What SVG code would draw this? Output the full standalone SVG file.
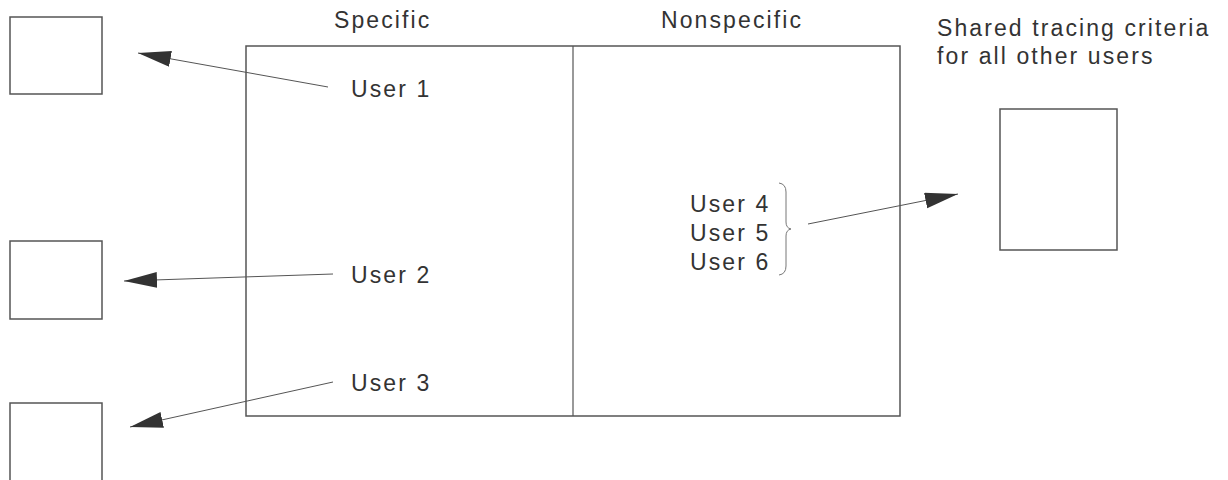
<svg xmlns="http://www.w3.org/2000/svg" width="1228" height="480" viewBox="0 0 1228 480">
<style>
text{font-family:"Liberation Sans",Arial,sans-serif;font-size:23px;letter-spacing:2.1px;fill:#333}
.box{fill:#fff;stroke:#555;stroke-width:1.5}
.conn{stroke:#555;stroke-width:1;fill:none}
</style>
<defs>
<marker id="ah" markerUnits="userSpaceOnUse" markerWidth="34" markerHeight="18" refX="33" refY="8" orient="auto">
<path d="M0,0 L33,8 L0,16 z" fill="#333"/>
</marker>
</defs>
<rect width="1228" height="480" fill="#fff"/>
<g id="main">
<rect class="box" x="246" y="46" width="654" height="370"/>
<line x1="573" y1="46" x2="573" y2="416" stroke="#555" stroke-width="1.2"/>
<text x="334" y="28">Specific</text>
<text x="661" y="28">Nonspecific</text>
</g>
<g id="user1"><text x="351" y="97">User 1</text></g>
<g id="user2"><text x="351" y="283">User 2</text></g>
<g id="user3"><text x="351" y="391">User 3</text></g>
<g id="users456">
<text x="690" y="212">User 4</text>
<text x="690" y="241">User 5</text>
<text x="690" y="270">User 6</text>
<path d="M779,183 Q786,184 786,192 L786,222 Q786,228 791,229 Q786,230 786,236 L786,266 Q786,274 779,275" fill="none" stroke="#777" stroke-width="1"/>
</g>
<g id="box1"><rect class="box" x="10" y="17" width="92" height="77"/></g>
<g id="box2"><rect class="box" x="10" y="241" width="92" height="78"/></g>
<g id="box3"><rect class="box" x="10" y="403" width="92" height="90"/></g>
<g id="shared">
<text x="937" y="36">Shared tracing criteria</text>
<text x="937" y="64">for all other users</text>
<rect class="box" x="1000" y="109" width="117" height="141"/>
</g>
<g id="connectors">
<line class="conn" x1="328" y1="87" x2="138" y2="53" marker-end="url(#ah)"/>
<line class="conn" x1="333" y1="274" x2="124" y2="281" marker-end="url(#ah)"/>
<line class="conn" x1="333" y1="382" x2="130" y2="427" marker-end="url(#ah)"/>
<line class="conn" x1="808" y1="224" x2="958" y2="194" marker-end="url(#ah)"/>
</g>
</svg>
